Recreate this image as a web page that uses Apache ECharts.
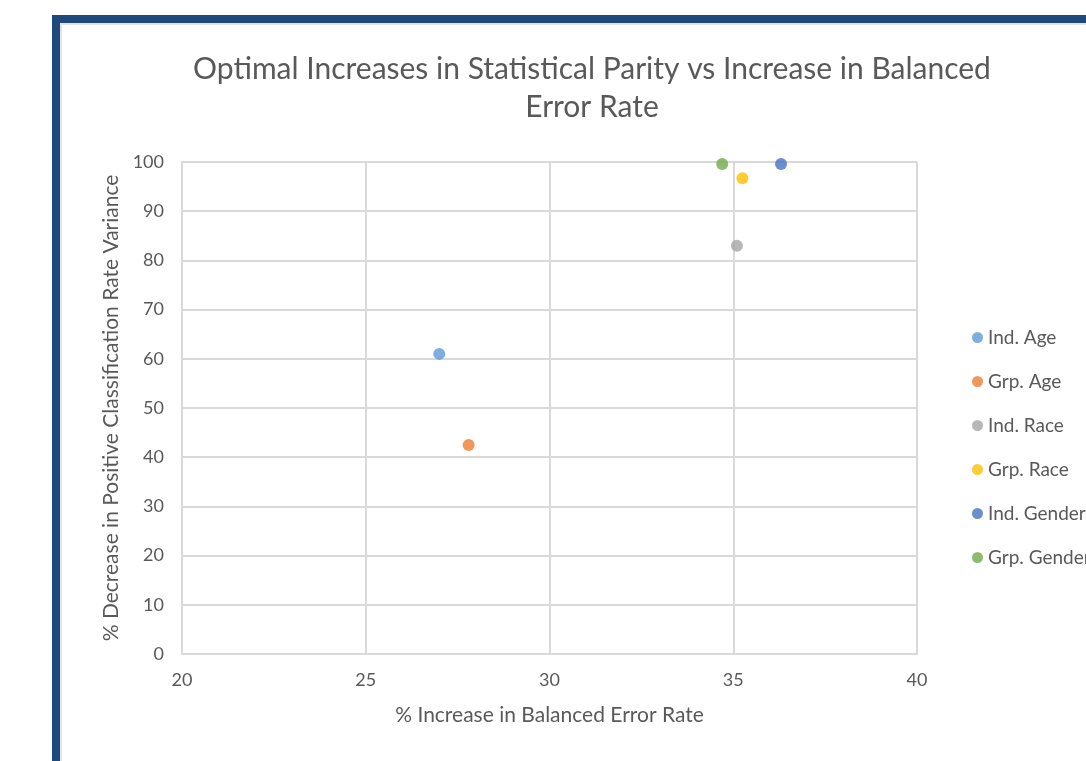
<!DOCTYPE html>
<html>
<head>
<meta charset="utf-8">
<script src="https://cdn.jsdelivr.net/npm/echarts@6/dist/echarts.min.js"></script>
<style>
  html, body { margin: 0; padding: 0; background: #fff; overflow: hidden; }
  #frame {
    position: absolute; left: 52px; top: 15px; width: 1100px; height: 800px;
    border-left: 8px solid #1f497d; border-top: 8px solid #1f497d;
  }
  #inner {
    position: absolute; left: 0; top: 0; right: 0; bottom: 0;
    border-left: 2px solid #e3e3e3; border-top: 2px solid #e3e3e3;
  }
  #chart { position: absolute; left: 0; top: 0; width: 1086px; height: 761px; }
</style>
</head>
<body>
<div id="frame"><div id="inner"></div></div>
<div id="chart"></div>
<script>
// series names, colours and points (x = % increase in BER, y = % decrease in variance)
const seriesNames = ['Ind. Age', 'Grp. Age', 'Ind. Race', 'Grp. Race', 'Ind. Gender', 'Grp. Gender']
const seriesColors = ['#5b9bd5', '#ed7d31', '#a5a5a5', '#ffc000', '#4472c4', '#70ad47']
const xValues = [27.0, 27.8, 35.1, 35.25, 36.3, 34.7]
const yValues = [61.0, 42.5, 83.0, 96.7, 99.6, 99.6]

const textColor = '#595959'
const gridColor = '#d9d9d9'
const font = 'Lato, "Open Sans", sans-serif'

const chart = echarts.init(document.getElementById('chart'))

chart.setOption({
  animation: false,
  backgroundColor: 'transparent',
  textStyle: { fontFamily: font, color: textColor },
  graphic: [{
    type: 'text',
    x: 592,
    y: 50,
    style: {
      text: 'Optimal Increases in Statistical Parity vs Increase in Balanced\nError Rate',
      textAlign: 'center',
      font: '30px ' + font,
      lineHeight: 38,
      fill: textColor
    }
  }],
  legend: {
    orient: 'vertical',
    left: 967,
    top: 323,
    itemGap: 25,
    itemWidth: 11,
    itemHeight: 11,
    icon: 'circle',
    textStyle: { fontSize: 19, color: textColor, fontFamily: font },
    data: seriesNames
  },
  grid: { left: 182, top: 162, width: 735, height: 492 },
  xAxis: {
    type: 'value',
    min: 20,
    max: 40,
    interval: 5,
    name: '% Increase in Balanced Error Rate',
    nameLocation: 'middle',
    nameGap: 51,
    nameTextStyle: { fontSize: 21, color: textColor },
    axisLine: { lineStyle: { color: gridColor, width: 2 } },
    axisTick: { show: false },
    axisLabel: { fontSize: 18, color: textColor, margin: 17 },
    splitLine: { lineStyle: { color: gridColor, width: 2 } }
  },
  yAxis: {
    type: 'value',
    min: 0,
    max: 100,
    interval: 10,
    name: '% Decrease in Positive Classification Rate Variance',
    nameLocation: 'middle',
    nameGap: 60,
    nameTextStyle: { fontSize: 21, color: textColor },
    axisLine: { show: true, lineStyle: { color: gridColor, width: 2 } },
    axisTick: { show: false },
    axisLabel: { fontSize: 18, color: textColor, margin: 18 },
    splitLine: { lineStyle: { color: gridColor, width: 2 } }
  },
  series: seriesNames.map((name, i) => ({
    name,
    type: 'scatter',
    symbol: 'circle',
    symbolSize: 12,
    itemStyle: { color: seriesColors[i] },
    data: [[xValues[i], yValues[i]]]
  }))
})
</script>
</body>
</html>
